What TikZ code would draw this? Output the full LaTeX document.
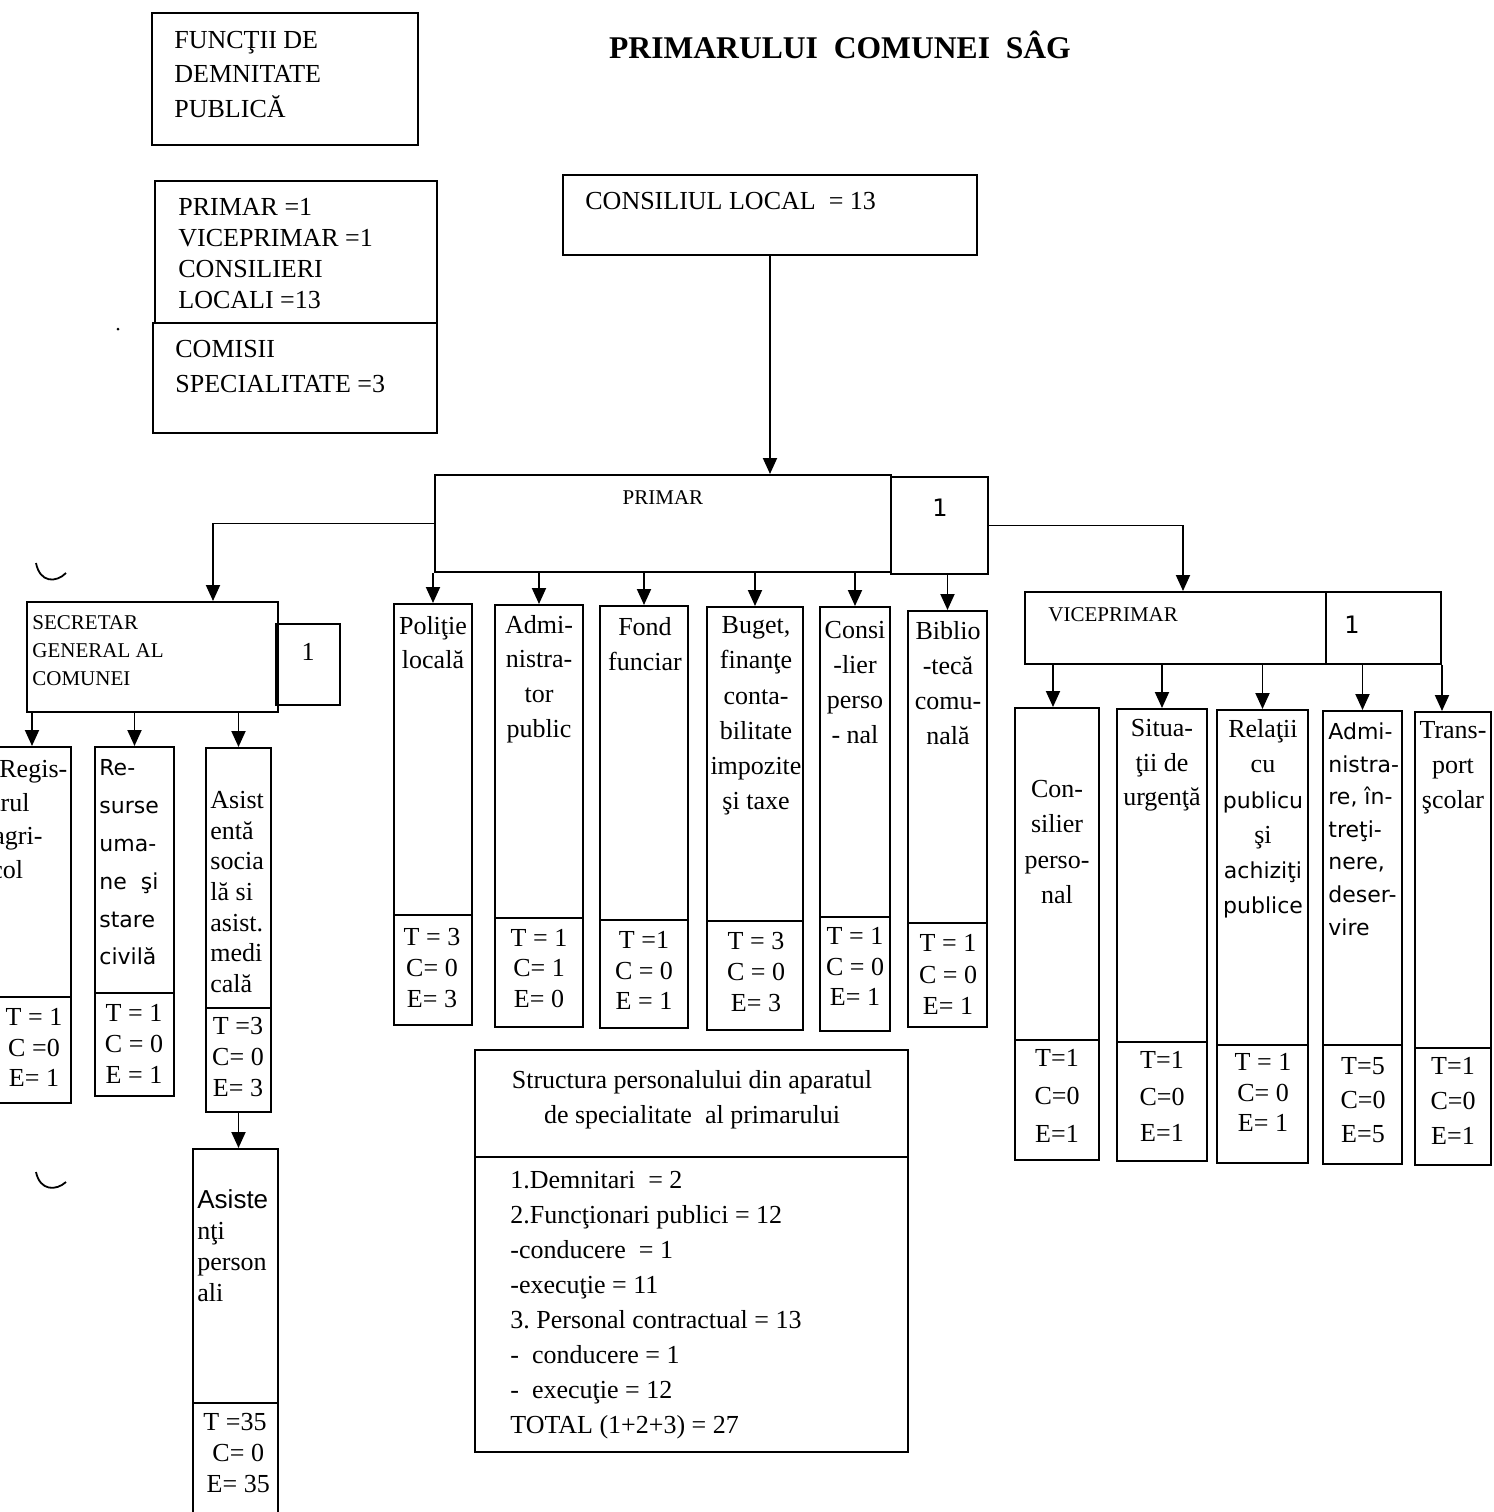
\documentclass[tikz,border=0pt]{standalone}
\usepackage{fontspec}
\setmainfont{Liberation Serif}
\newfontfamily\dvs{DejaVu Sans}
\newfontfamily\lsans{Liberation Sans}
\usetikzlibrary{fit,arrows.meta}
\begin{document}
\begin{tikzpicture}[x=0.5pt,y=-0.5pt,
  bx/.style={draw, line width=1pt, inner sep=0pt, fit={#1}},
  arr/.style={line width=0.95pt, -{Triangle[length=8pt,width=7pt]}},
  tc/.style={inner sep=0pt, align=center, font=\fontsize{13}{#1}\selectfont},
  tl/.style={inner sep=0pt, align=left, anchor=west, font=\fontsize{13}{#1}\selectfont},
  sl/.style={inner sep=0pt, align=left, anchor=west, font=\dvs\fontsize{11}{#1}\selectfont},
  caps/.style={inner sep=0pt, align=left, anchor=west, font=\fontsize{10.5}{#1}\selectfont},
  one/.style={inner sep=0pt, font=\dvs\fontsize{12}{14}\selectfont}
]
\useasboundingbox (0,0) rectangle (1494,1512);

% scan marks
\draw[line width=0.9pt] (36,563) .. controls (40,583) and (56,583) .. (66,573);
\draw[line width=0.9pt] (36,1172) .. controls (40,1191) and (56,1191) .. (66,1182);
\fill (118,329) circle (1.5);

% title
\node[inner sep=0pt, font=\bfseries\fontsize{15.8}{20}\selectfont] (title) at (840,45) {PRIMARULUI\ \ COMUNEI\ \ SÂG};

% left info boxes
\node[bx={(152,13) (418,145)}] (fdp) {};
\node[tl=17.25] (fdpt) at (174,74.5) {FUNCŢII DE\\DEMNITATE\\PUBLICĂ};
\node[bx={(155,181) (437,323)}] (pv) {};
\node[tl=15.5] (pvt) at (178,253.5) {PRIMAR =1\\VICEPRIMAR =1\\CONSILIERI\\LOCALI =13};
\node[bx={(153,323) (437,433)}] (com) {};
\node[tl=17.5] (comt) at (175,366.5) {COMISII\\SPECIALITATE =3};

% consiliul local
\node[bx={(563,175) (977,255)}] (cl) {};
\node[tl=16] (clt) at (585,201) {CONSILIUL LOCAL\ \ = 13};

% primar
\node[bx={(435,475) (891,572)}] (primar) {};
\node[caps=12, anchor=center] (primart) at (663,498) {PRIMAR};
\node[bx={(891,477) (988,574)}] (p1) {};
\node[one] (p1t) at (940,508) {1};

% secretar
\node[bx={(27,602) (278,712)}] (sec) {};
\node[caps=14] (sect) at (32,651) {SECRETAR\\GENERAL AL\\COMUNEI};
\node[bx={(276,624) (340,705)}] (s1) {};
\node[tc=15] (s1t) at (308,652) {1};

% viceprimar
\node[bx={(1025,592) (1326,664)}] (vice) {};
\node[caps=12] (vicet) at (1048,615) {VICEPRIMAR};
\node[bx={(1326,592) (1441,664)}] (v1) {};
\node[one] (v1t) at (1352,625) {1};

% secretar children
\node[bx={(-7,747) (71,997)}] (reg) {};
\node[bx={(-7,997) (71,1103)}] (regn) {};
\node[tl=16.85] (regt) at (-1,819.5) {Regis-\\\hspace*{-3pt}trul\\\hspace*{-3pt}agri-\\\hspace*{-4pt}col};
\node[tc=15.25] (regnt) at (34,1047.5) {T = 1\\C =0\\E= 1};

\node[bx={(95,747) (174,993)}] (res) {};
\node[bx={(95,993) (174,1096)}] (resn) {};
\node[sl=18.9] (rest) at (99,862.5) {Re-\\surse\\uma-\\ne\ \ şi\\stare\\civilă};
\node[tc=15.5] (resnt) at (134,1044) {T = 1\\C = 0\\E = 1};

\node[bx={(206,748) (271,1008)}] (ast) {};
\node[bx={(206,1008) (271,1112)}] (astn) {};
\node[tl=15.33] (astt) at (210,892) {Asist\\entă\\socia\\lă si\\asist.\\medi\\cală};
\node[tc=15.5] (astnt) at (238,1057) {T =3\\C= 0\\E= 3};

\node[bx={(193,1149) (278,1403)}] (asp) {};
\node[bx={(193,1403) (278,1525)}] (aspn) {};
\node[tl=15.5] (aspt) at (197,1245.5) {{\lsans Asiste}\\nţi\\person\\ali};
\node[tc=15.5] (aspnt) at (235,1453) {T =35\\\ C= 0\\\ E= 35};

% primar children
\node[bx={(394,604) (472,915)}] (pol) {};
\node[bx={(394,915) (472,1025)}] (poln) {};
\node[tc=17] (polt) at (433,643) {Poliţie\\locală};
\node[tc=15.5] (polnt) at (432,968) {T = 3\\C= 0\\E= 3};

\node[bx={(495,605) (583,918)}] (adm) {};
\node[bx={(495,918) (583,1027)}] (admn) {};
\node[tc=17.3] (admt) at (539,679) {Admi-\\nistra-\\tor\\public};
\node[tc=15.25] (admnt) at (539,968.5) {T = 1\\C= 1\\E= 0};

\node[bx={(600,606) (688,920)}] (fond) {};
\node[bx={(600,920) (688,1028)}] (fondn) {};
\node[tc=17.5] (fondt) at (645,644.5) {Fond\\funciar};
\node[tc=15.25] (fondnt) at (644,970.5) {T =1\\C = 0\\E = 1};

\node[bx={(707,607) (803,921)}] (bug) {};
\node[bx={(707,921) (803,1030)}] (bugn) {};
\node[tc=17.6] (bugt) at (756,716) {Buget,\\finanţe\\conta-\\bilitate\\impozite\\şi taxe};
\node[tc=15.5] (bugnt) at (756,972) {T = 3\\C = 0\\E= 3};

\node[bx={(820,607) (890,917)}] (con) {};
\node[bx={(820,917) (890,1031)}] (conn) {};
\node[tc=17.5] (cont) at (855,682.5) {Consi\\-lier\\perso\\- nal};
\node[tc=15.25] (connt) at (855,966.5) {T = 1\\C = 0\\E= 1};

\node[bx={(908,611) (987,923)}] (bib) {};
\node[bx={(908,923) (987,1027)}] (bibn) {};
\node[tc=17.5] (bibt) at (948,683.5) {Biblio\\-tecă\\comu-\\nală};
\node[tc=15.75] (bibnt) at (948,974.5) {T = 1\\C = 0\\E= 1};

% viceprimar children
\node[bx={(1015,708) (1099,1040)}] (cs2) {};
\node[bx={(1015,1040) (1099,1160)}] (cs2n) {};
\node[tc=17.7] (cs2t) at (1057,842) {Con-\\silier\\perso-\\nal};
\node[tc=19] (cs2nt) at (1057,1096) {T=1\\C=0\\E=1};

\node[bx={(1117,709) (1207,1042)}] (sit) {};
\node[bx={(1117,1042) (1207,1161)}] (sitn) {};
\node[tc=17.25] (sitt) at (1162,765.5) {Situa-\\ţii de\\urgenţă};
\node[tc=18.25] (sitnt) at (1162,1096.5) {T=1\\C=0\\E=1};

\node[bx={(1217,710) (1308,1045)}] (rel) {};
\node[bx={(1217,1045) (1308,1163)}] (reln) {};
\node[tc=17.6] (relt) at (1263,819) {Relaţii\\cu\\{\dvs\fontsize{11}{17.6}\selectfont publicu}\\şi\\{\dvs\fontsize{11}{17.6}\selectfont achiziţi}\\{\dvs\fontsize{11}{17.6}\selectfont publice}};
\node[tc=15.25] (relnt) at (1263,1092.5) {T = 1\\C= 0\\E= 1};

\node[bx={(1323,711) (1402,1045)}] (ad2) {};
\node[bx={(1323,1045) (1402,1164)}] (ad2n) {};
\node[sl=16.3] (ad2t) at (1328,829) {Admi-\\nistra-\\re, în-\\treţi-\\nere,\\deser-\\vire};
\node[tc=17] (ad2nt) at (1363,1100) {T=5\\C=0\\E=5};

\node[bx={(1415,712) (1491,1048)}] (tr) {};
\node[bx={(1415,1048) (1491,1165)}] (trn) {};
\node[tc=17.5] (trt) at (1453,768) {Trans-\\port\\şcolar};
\node[tc=17.5] (trnt) at (1453,1101) {T=1\\C=0\\E=1};

% structure box
\node[bx={(475,1050) (908,1157)}] (st) {};
\node[bx={(475,1157) (908,1452)}] (stn) {};
\node[tc=17.5] (stt) at (692,1099.5) {Structura personalului din aparatul\\de specialitate\ \ al primarului};
\node[tl=17.5] (stnt) at (510,1305.5) {1.Demnitari\ \ = 2\\2.Funcţionari publici = 12\\-conducere\ \ = 1\\-execuţie = 11\\3.\ Personal contractual = 13\\-\ \ conducere = 1\\-\ \ execuţie = 12\\TOTAL (1+2+3) = 27};

% connectors
\draw[arr] (cl.south) -- (cl.south |- primar.north);
\draw[arr] (primar.west) -| (sec.north -| 213,0);
\draw[arr] (p1.east) -| (vice.north -| 1183,0);

\draw[arr] (pol.north |- primar.south) -- (pol.north);
\draw[arr] (adm.north |- primar.south) -- (adm.north);
\draw[arr] (fond.north |- primar.south) -- (fond.north);
\draw[arr] (bug.north |- primar.south) -- (bug.north);
\draw[arr] (con.north |- primar.south) -- (con.north);
\draw[arr] (bib.north |- p1.south) -- (bib.north);

\draw[arr] (reg.north |- sec.south) -- (reg.north);
\draw[arr] (res.north |- sec.south) -- (res.north);
\draw[arr] (ast.north |- sec.south) -- (ast.north);
\draw[arr] (astn.south) -- (astn.south |- asp.north);

\draw[arr] (1053,0 |- vice.south) -- (1053,0 |- cs2.north);
\draw[arr] (sit.north |- vice.south) -- (sit.north);
\draw[arr] (rel.north |- vice.south) -- (rel.north);
\draw[arr] (ad2.north |- v1.south) -- (ad2.north);
\draw[arr] (v1.south east) -- (v1.south east |- tr.north);
\end{tikzpicture}
\end{document}
